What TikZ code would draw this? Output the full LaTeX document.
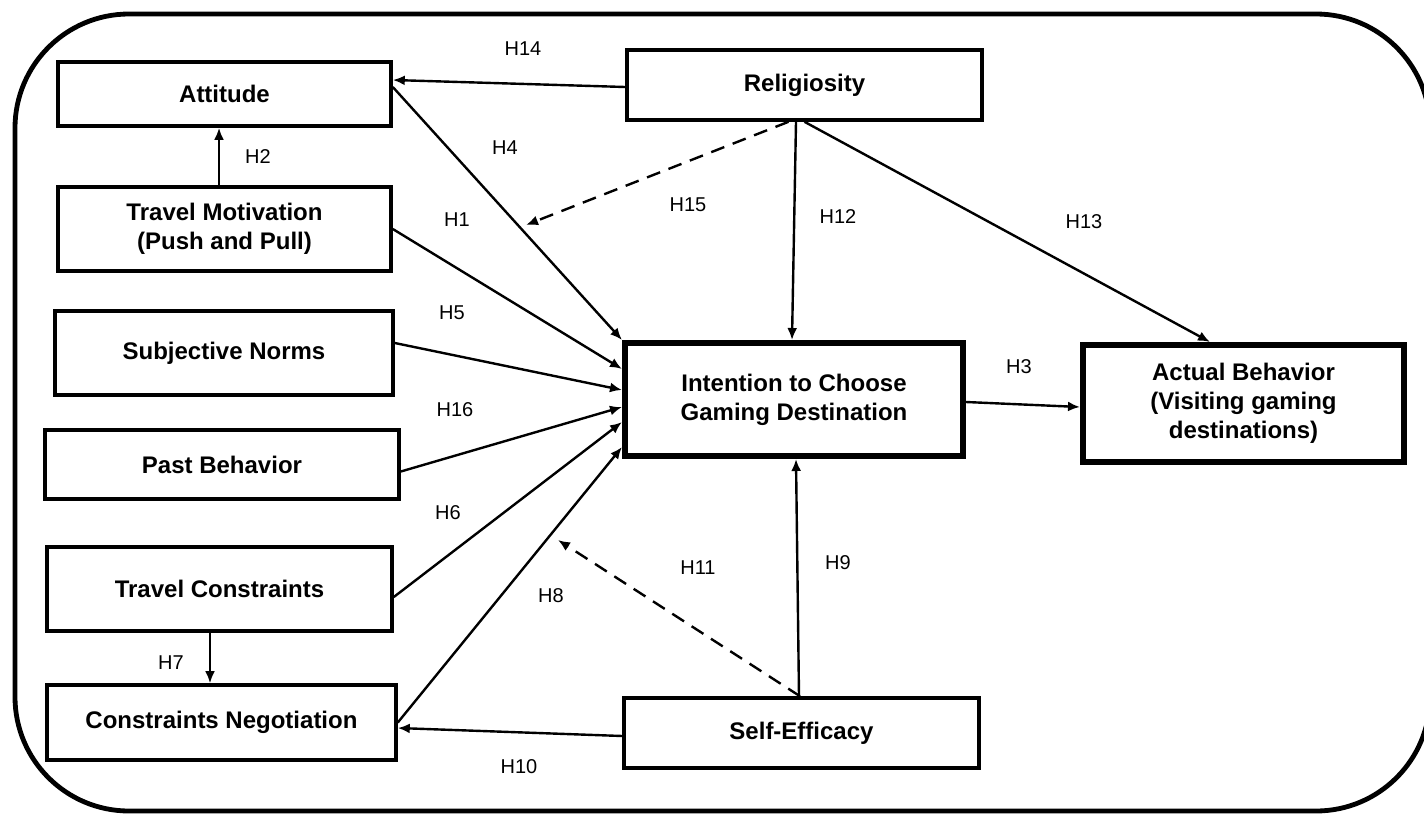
\documentclass[tikz,border=0pt]{standalone}
\usepackage{fontspec}
\setmainfont{Liberation Sans}
\usetikzlibrary{arrows.meta,calc}
\newlength\px
\setlength\px{0.5pt}

\begin{document}
\begin{tikzpicture}[x=0.5pt, y=-0.5pt,
      factor/.style = {shape=rectangle, draw, line width=1.8pt,
        align=center, inner sep=0pt,
        font=\bfseries\fontsize{12}{14.5}\selectfont
      },
      central/.style = {factor, line width=3pt},
      hlabel/.style = {font=\fontsize{10}{12}\selectfont, anchor=center},
      arr/.style = {-{Latex[length=6pt,width=5pt]}, line width=1.2pt},
      dasharr/.style = {arr, dash pattern=on 7pt off 4.5pt}
    ]
    \useasboundingbox (0,0) rectangle (1424,814);
    \clip (0,0) rectangle (1424,814);
    \draw[line width=2.4pt, rounded corners=57pt] (15,14) rectangle (1430,811);

    %constructos
    \node[factor, minimum width=333\px, minimum height=64\px] (att) at (224.5,94) {Attitude};
    \node[factor, minimum width=355\px, minimum height=70\px] (rel) at (804.5,85) {Religiosity};
    \node[factor, minimum width=333\px, minimum height=84\px] (tm) at (224.5,229) {Travel Motivation\\(Push and Pull)};
    \node[factor, minimum width=338\px, minimum height=84\px] (sn) at (224,353) {Subjective Norms};
    \node[factor, minimum width=354\px, minimum height=69\px] (pb) at (222,464.5) {Past Behavior};
    \node[factor, minimum width=345\px, minimum height=84\px] (tc) at (219.5,589) {Travel Constraints};
    \node[factor, minimum width=349\px, minimum height=75\px] (cn) at (221.5,722.5) {Constraints Negotiation};
    \node[factor, minimum width=355\px, minimum height=70\px] (se) at (801.5,733) {Self-Efficacy};
    \node[central, minimum width=338\px, minimum height=113\px] (int) at (794,399.5) {Intention to Choose\\Gaming Destination};
    \node[central, minimum width=321\px, minimum height=117\px] (ab) at (1243.5,403.5) {Actual Behavior\\(Visiting gaming\\destinations)};

    %flechas hacia la intencion
    \draw[arr] ($(att.east)+(0,-7)$) -- (int.north west);
    \draw[arr] (tm.east) -- ($(int.north west)+(0,29)$);
    \draw[arr] ($(sn.east)+(0,-10)$) -- ($(int.north west)+(0,50)$);
    \draw[arr] ($(pb.east)+(0,7)$) -- ($(int.north west)+(0,67)$);
    \draw[arr] ($(tc.east)+(0,8)$) -- ($(int.north west)+(0,82)$);
    \draw[arr] (cn.east) -- ($(int.north west)+(0,107)$);
    \draw[arr] ($(rel.south)+(-8.5,0)$) -- ($(int.north)+(-2,0)$);
    \draw[arr] ($(se.north)+(-2.5,0)$) -- ($(int.south)+(2,0)$);
    \draw[arr] ($(int.east)+(0,2.5)$) -- ($(ab.west)+(0,3.5)$);

    %resto de flechas
    \draw[arr] ($(rel.west)+(0,2)$) -- ($(att.east)+(0,-14)$);
    \draw[arr] ($(rel.south)+(0,0)$) -- ($(ab.north)+(-33.5,0)$);
    \draw[arr] ($(tm.north)+(-5.5,0)$) -- ($(att.south)+(-5.5,0)$);
    \coordinate (h7) at ($(tc.south)+(-9.5,0)$);
    \draw[arr] (h7) -- (h7 |- cn.north);
    \draw[arr] ($(se.west)+(0,3)$) -- ($(cn.east)+(0,5.5)$);

    %moderadores
    \coordinate (h15) at (526,225);
    \coordinate (h11) at (558,540);
    \draw[dasharr] ($(rel.south)+(-16,0)$) -- (h15);
    \draw[dasharr] ($(se.north)+(-1.5,0)$) -- (h11);

    %etiquetas
    \node[hlabel] (l14) at (523,49) {H14};
    \node[hlabel] (l2) at (258,157) {H2};
    \node[hlabel] (l4) at (505,148) {H4};
    \node[hlabel] (l1) at (457,220) {H1};
    \node[hlabel] (l15) at (688,205) {H15};
    \node[hlabel] (l5) at (452,313) {H5};
    \node[hlabel] (l16) at (455,410) {H16};
    \node[hlabel] (l12) at (838,217) {H12};
    \node[hlabel] (l13) at (1084,222) {H13};
    \node[hlabel] (l3) at (1019,367) {H3};
    \node[hlabel] (l6) at (448,513) {H6};
    \node[hlabel] (l11) at (698,568) {H11};
    \node[hlabel] (l9) at (838,563) {H9};
    \node[hlabel] (l8) at (551,596) {H8};
    \node[hlabel] (l7) at (171,663) {H7};
    \node[hlabel] (l10) at (519,767) {H10};
\end{tikzpicture}
\end{document}
